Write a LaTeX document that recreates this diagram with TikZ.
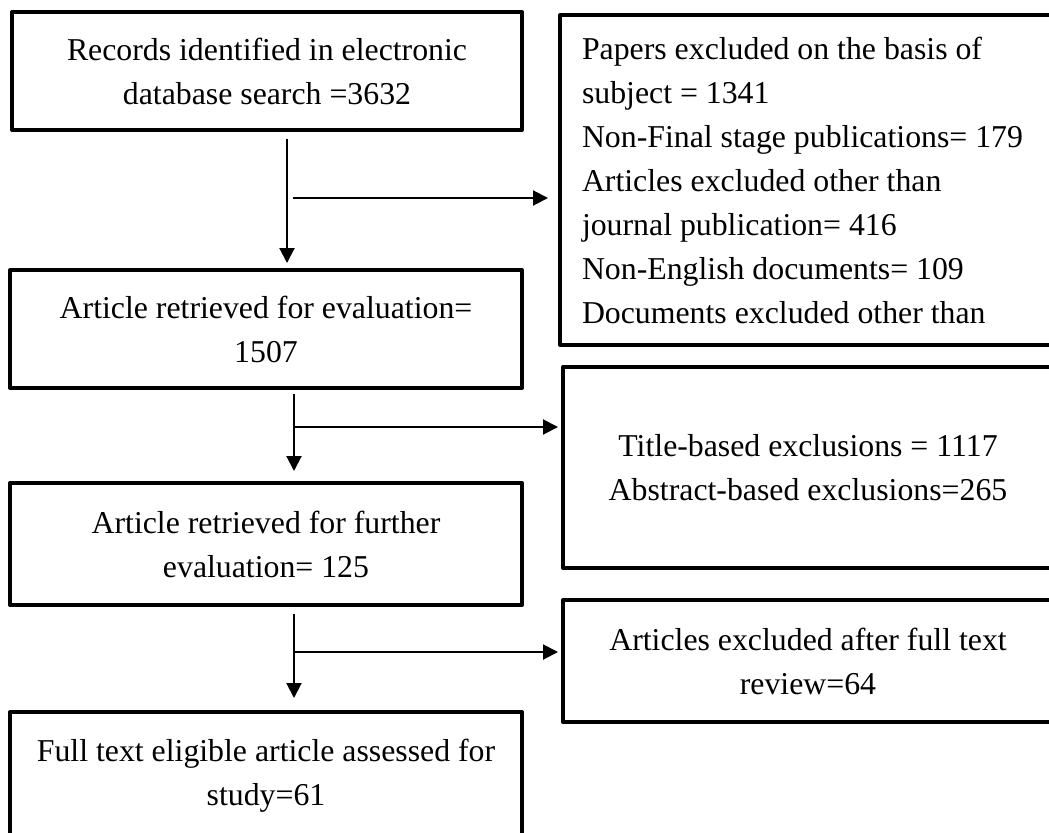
\documentclass[tikz,border=0pt]{standalone}
\usepackage{fontspec}
\setmainfont{Liberation Serif}
\usetikzlibrary{arrows.meta}

\tikzset{
  stagebox/.style={draw, line width=2pt, line join=round, align=center, inner sep=0pt,
    font=\fontsize{15.9}{22}\selectfont},
  flowarrow/.style={line width=1pt, -{Triangle[length=7.5pt,width=7.5pt]}}
}

\begin{document}
\begin{tikzpicture}[x=0.5pt, y=-0.5pt]
        \useasboundingbox (0,0) rectangle (1049,832);
        \clip (0,0) rectangle (1049,832);
        \node[stagebox, minimum width=255pt, minimum height=59pt] (records) at (267,71) {Records identified in electronic\\database search =3632};
        \node[stagebox, minimum width=256pt, minimum height=59pt] (retrieved) at (266,329) {Article retrieved for evaluation=\\1507};
        \node[stagebox, minimum width=256pt, minimum height=61pt] (further) at (266,544) {Article retrieved for further\\evaluation= 125};
        \node[stagebox, minimum width=256pt, minimum height=64pt] (eligible) at (266,776) {Full text eligible article assessed for\\study=61};
        \node[stagebox, align=flush left, text width=224.5pt, inner xsep=11pt, minimum width=246.5pt, minimum height=165pt] (subject) at (806.5,180) {Papers excluded on the basis of\\subject = 1341\\Non-Final stage publications= 179\\Articles excluded other than\\journal publication= 416\\Non-English documents= 109\\Documents excluded other than};
        \node[stagebox, minimum width=245pt, minimum height=100.5pt] (title) at (808,467.5) {Title-based exclusions = 1117\\Abstract-based exclusions=265};
        \node[stagebox, minimum width=245pt, minimum height=61pt] (fulltext) at (808,661) {Articles excluded after full text\\review=64};
        \coordinate (j1) at (287,198);
        \coordinate (j2) at (294,427);
        \coordinate (j3) at (294,652);
        \draw[flowarrow, shorten <=3.5pt, shorten >=2.5pt] (records.south -| j1) -- (retrieved.north -| j1);
        \draw[flowarrow, shorten <=3pt, shorten >=5pt] (j1) -- (subject.west |- j1);
        \draw[flowarrow, shorten <=2pt, shorten >=5pt] (retrieved.south -| j2) -- (further.north -| j2);
        \draw[flowarrow, shorten >=1.5pt] (j2) -- (title.west |- j2);
        \draw[flowarrow, shorten <=3.5pt, shorten >=6pt] (further.south -| j3) -- (eligible.north -| j3);
        \draw[flowarrow, shorten >=1.5pt] (j3) -- (fulltext.west |- j3);
    \end{tikzpicture}
\end{document}
